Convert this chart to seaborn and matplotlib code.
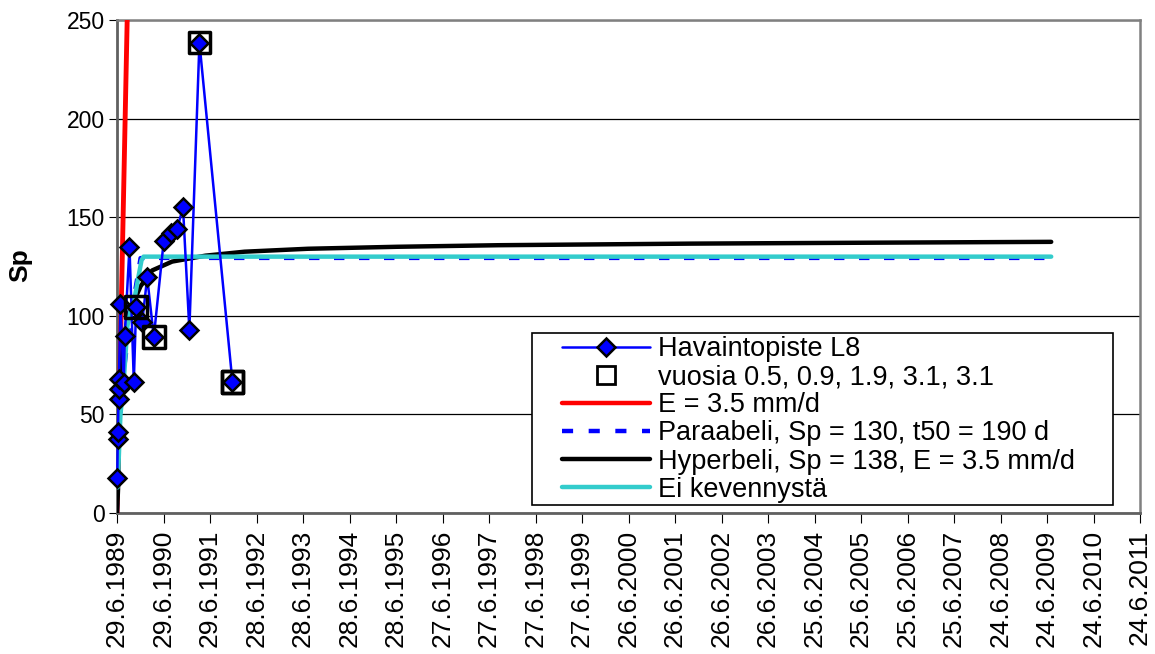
import matplotlib
matplotlib.use("Agg")
import matplotlib.pyplot as plt
from matplotlib.lines import Line2D
from matplotlib.patches import Rectangle
import numpy as np
import pandas as pd
import seaborn as sns

# Havaintopiste L8, days from 29.6.1989 and Sp values
start = pd.Timestamp("1989-06-29")
obs_days = [2, 6, 7, 12, 14, 15, 27, 53, 61, 98, 132, 150, 198, 237, 289,
            367, 420, 472, 518, 568, 647, 906]
obs_sp = [18, 37.5, 41, 58, 63, 68, 106, 66, 90, 135, 66.5, 104.5, 97, 119.5,
          89.3, 138, 141.8, 144, 155, 93, 238.5, 66.5]

# marked points (vuosia 0.5, 0.9, 1.9, 3.1, 3.1)
sq_days = [150, 289, 647, 906, 906]
sq_sp = [104.5, 89.3, 238.5, 66.5, 66.5]

# model curves
red_days = [0, 85]
red_sp = [0, 266]
para_days = [0, 5, 15, 30, 60, 100, 140, 184, 7333]
para_sp = [0, 22, 38, 54, 75, 96, 112, 129.3, 129.3]
hyp_days = [0, 8, 14, 30, 53, 90, 185, 276, 433, 695, 1000, 1500, 2200, 3000,
            4500, 6000, 7333]
hyp_sp = [0, 12, 45, 70, 88, 101, 115, 123, 127.5, 130.5, 132.5, 134, 135,
          135.8, 136.6, 137.1, 137.5]
ei_days = [5, 27, 51, 82, 114, 141, 169, 192, 208, 7333]
ei_sp = [13, 50, 65, 95, 105, 110, 120, 128, 130, 130]

labels = ["Havaintopiste L8", "vuosia 0.5, 0.9, 1.9, 3.1, 3.1", "E = 3.5 mm/d",
          "Paraabeli, Sp = 130, t50 = 190 d", "Hyperbeli, Sp = 138, E = 3.5 mm/d",
          "Ei kevennystä"]


def to_dates(days):
    return start + pd.to_timedelta(days, unit="D")


sns.set_style("white")
plt.rcParams["font.family"] = ["Liberation Sans", "DejaVu Sans"]
plt.rcParams["text.color"] = "black"
plt.rcParams["xtick.color"] = "black"
plt.rcParams["ytick.color"] = "black"

fig = plt.figure(figsize=(11.55, 6.54), dpi=100)
ax = fig.add_axes([117 / 1155, 1 - 513 / 654, (1140 - 117) / 1155, (513 - 20) / 654])

kw = dict(estimator=None, sort=False, ax=ax, legend=False)
sns.lineplot(x=to_dates(red_days), y=red_sp, color="#ff0000", linewidth=3.5, zorder=3, **kw)
sns.lineplot(x=to_dates(para_days), y=para_sp, color="#0000ff", linewidth=3,
             dashes=False, zorder=4, **kw).lines[-1].set_dashes((2.5, 3.5))
sns.lineplot(x=to_dates(hyp_days), y=hyp_sp, color="black", linewidth=3.2, zorder=5, **kw)
sns.lineplot(x=to_dates(ei_days), y=ei_sp, color="#33cccc", linewidth=3.2, zorder=6, **kw)
sns.lineplot(x=to_dates(obs_days), y=obs_sp, color="#0000ff", linewidth=1.8,
             marker="D", markersize=9, markerfacecolor="#0000ff",
             markeredgecolor="black", markeredgewidth=1.8, zorder=7, **kw)
ax.lines[-1].set_clip_on(False)
sns.scatterplot(x=to_dates(sq_days), y=sq_sp, marker="s", s=240, facecolors="none",
                edgecolor="black", linewidth=2.5, zorder=8, ax=ax, legend=False)

# axes
tick_dates = [start + pd.Timedelta(days=365 * k) for k in range(23)]
ax.set_xlim(tick_dates[0], tick_dates[-1])
ax.set_xticks(tick_dates)
ax.set_xticklabels([f"{d.day}.{d.month}.{d.year}" for d in tick_dates],
                   rotation=90, fontsize=19)
ax.set_ylim(0, 250)
ax.set_yticks(np.arange(0, 251, 50))
ax.tick_params(axis="y", labelsize=16.5, length=6, direction="out", left=True, pad=3)
ax.tick_params(axis="x", length=7, direction="out", bottom=True, pad=5)
ax.yaxis.grid(True, color="black", linewidth=0.9)
ax.set_axisbelow(True)
for s in ["top", "right"]:
    ax.spines[s].set_color("#808080")
    ax.spines[s].set_linewidth(1.8)
for s in ["left", "bottom"]:
    ax.spines[s].set_color("#606060")
    ax.spines[s].set_linewidth(2)
ax.set_xlabel("")
ax.set_ylabel("")
fig.text(20 / 1155, 1 - 265 / 654, "Sp", rotation=90, ha="center", va="center",
         fontsize=19, fontweight="bold")

# legend
handles = [
    Line2D([], [], color="#0000ff", lw=1.8, marker="D", markersize=9,
           markerfacecolor="#0000ff", markeredgecolor="black", markeredgewidth=1.8),
    Line2D([], [], lw=0, marker="s", markersize=13, markerfacecolor="none",
           markeredgecolor="black", markeredgewidth=2),
    Line2D([], [], color="#ff0000", lw=3.2),
    Line2D([], [], color="#0000ff", lw=3.2, dashes=(2.5, 3.5)),
    Line2D([], [], color="black", lw=3.2),
    Line2D([], [], color="#33cccc", lw=3.2),
]
box = Rectangle((532 / 1155, 1 - 505 / 654), (1113 - 532) / 1155, (505 - 333) / 654,
                transform=fig.transFigure, facecolor="white", edgecolor="black",
                linewidth=1.2, zorder=9)
ax.add_patch(box)
box.set_clip_on(False)
leg = ax.legend(handles, labels, loc="upper left", bbox_to_anchor=(562 / 1155, 1 - 336 / 654),
                bbox_transform=fig.transFigure, frameon=False, fontsize=19.5,
                borderpad=0, borderaxespad=0, handlelength=3.25, handletextpad=0.3,
                labelspacing=0.08)
leg.set_zorder(10)

fig.savefig("out.png", dpi=100)
